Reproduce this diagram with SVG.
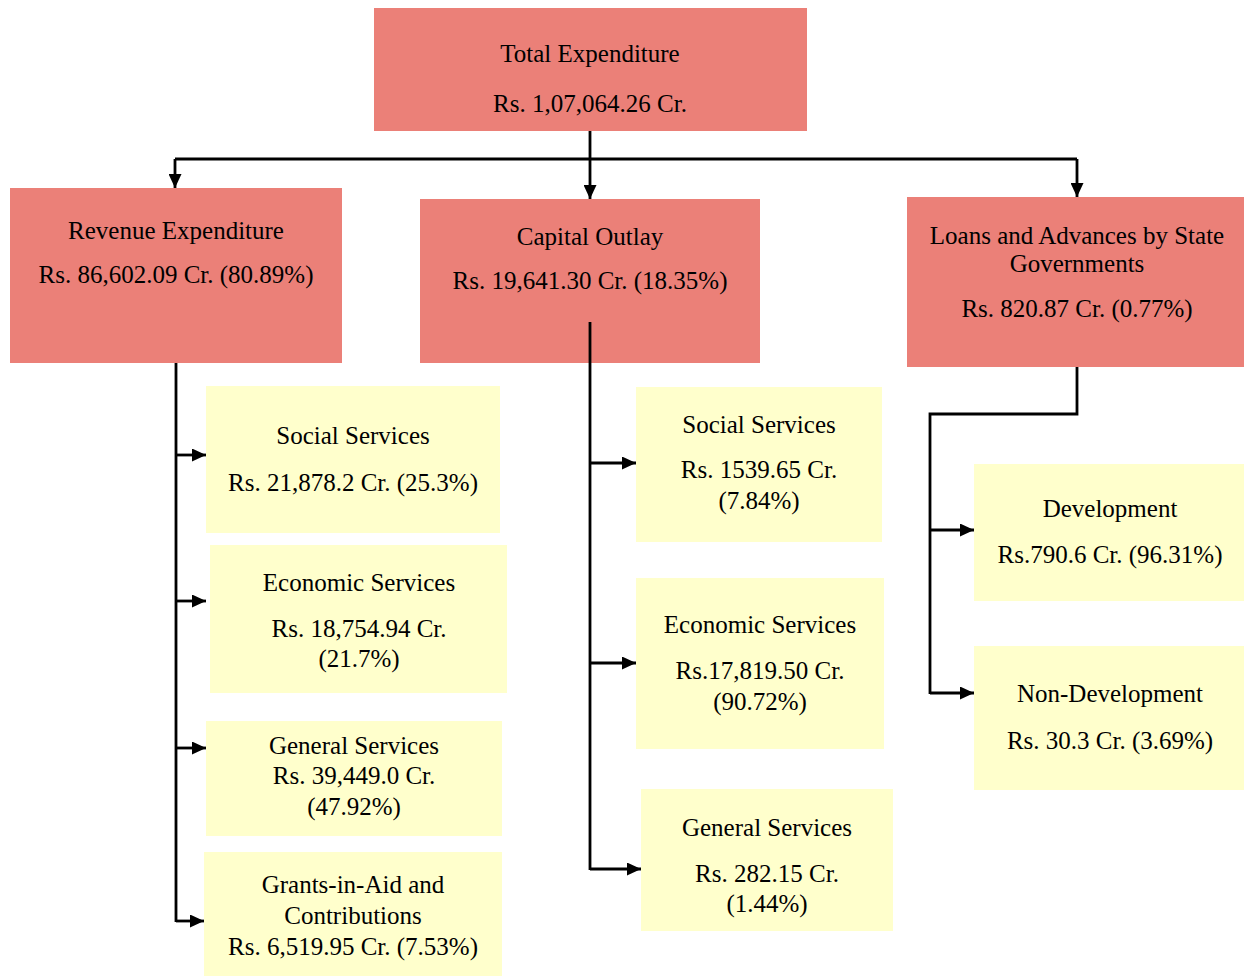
<svg xmlns="http://www.w3.org/2000/svg" width="1244" height="976" viewBox="0 0 1244 976">
<style>
.red{fill:#EB8078}
.yel{fill:#FFFFCC}
text{font-family:"Liberation Serif","Times New Roman",serif;font-size:25px;fill:#000;text-anchor:middle}
.ln{fill:none;stroke:#000;stroke-width:2.8}
</style>
<defs>
<marker id="ahl" markerWidth="14" markerHeight="13" refX="14" refY="6.5" orient="auto" markerUnits="userSpaceOnUse" viewBox="0 0 14 13">
<path d="M0,0 L14,6.5 L0,13 Z" fill="#000"/>
</marker>
</defs>
<rect width="1244" height="976" fill="#fff"/>
<g id="total"><rect class="red" x="374" y="8" width="433" height="123"/>
<text x="590" y="62">Total Expenditure</text><text x="590" y="112">Rs. 1,07,064.26 Cr.</text></g>
<g id="revenue"><rect class="red" x="10" y="188" width="332" height="175"/>
<text x="176" y="239">Revenue Expenditure</text><text x="176" y="283">Rs. 86,602.09 Cr. (80.89%)</text></g>
<g id="capital"><rect class="red" x="420" y="199" width="340" height="164"/>
<text x="590" y="245">Capital Outlay</text><text x="590" y="289">Rs. 19,641.30 Cr. (18.35%)</text></g>
<g id="loans"><rect class="red" x="907" y="197" width="337" height="170"/>
<text x="1077" y="244">Loans and Advances by State</text><text x="1077" y="272">Governments</text><text x="1077" y="317">Rs. 820.87 Cr. (0.77%)</text></g>
<g id="rev-social"><rect class="yel" x="206" y="386" width="294" height="147"/>
<text x="353" y="444">Social Services</text><text x="353" y="491">Rs. 21,878.2 Cr. (25.3%)</text></g>
<g id="rev-economic"><rect class="yel" x="210" y="545" width="297" height="148"/>
<text x="359" y="591">Economic Services</text><text x="359" y="637">Rs. 18,754.94 Cr.</text><text x="359" y="667">(21.7%)</text></g>
<g id="rev-general"><rect class="yel" x="206" y="721" width="296" height="115"/>
<text x="354" y="754">General Services</text><text x="354" y="784">Rs. 39,449.0 Cr.</text><text x="354" y="815">(47.92%)</text></g>
<g id="rev-grants"><rect class="yel" x="204" y="852" width="298" height="124"/>
<text x="353" y="893">Grants-in-Aid and</text><text x="353" y="924">Contributions</text><text x="353" y="955">Rs. 6,519.95 Cr. (7.53%)</text></g>
<g id="cap-social"><rect class="yel" x="636" y="387" width="246" height="155"/>
<text x="759" y="433">Social Services</text><text x="759" y="478">Rs. 1539.65 Cr.</text><text x="759" y="509">(7.84%)</text></g>
<g id="cap-economic"><rect class="yel" x="636" y="578" width="248" height="171"/>
<text x="760" y="633">Economic Services</text><text x="760" y="679">Rs.17,819.50 Cr.</text><text x="760" y="710">(90.72%)</text></g>
<g id="cap-general"><rect class="yel" x="641" y="789" width="252" height="142"/>
<text x="767" y="836">General Services</text><text x="767" y="882">Rs. 282.15 Cr.</text><text x="767" y="912">(1.44%)</text></g>
<g id="development"><rect class="yel" x="974" y="464" width="270" height="137"/>
<text x="1110" y="517">Development</text><text x="1110" y="563">Rs.790.6 Cr. (96.31%)</text></g>
<g id="non-development"><rect class="yel" x="974" y="646" width="270" height="144"/>
<text x="1110" y="702">Non-Development</text><text x="1110" y="749">Rs. 30.3 Cr. (3.69%)</text></g>
<g id="connectors">
<path class="ln" d="M590,131 V159 M175,159 H1077"/>
<path class="ln" d="M175,159 V188" marker-end="url(#ahl)"/>
<path class="ln" d="M590,159 V199" marker-end="url(#ahl)"/>
<path class="ln" d="M1077,159 V197" marker-end="url(#ahl)"/>
<path class="ln" d="M176,363 V922"/>
<path class="ln" d="M176,455 H206" marker-end="url(#ahl)"/>
<path class="ln" d="M176,601 H206" marker-end="url(#ahl)"/>
<path class="ln" d="M176,748 H206" marker-end="url(#ahl)"/>
<path class="ln" d="M176,921 H204" marker-end="url(#ahl)"/>
<path class="ln" d="M590,322 V870"/>
<path class="ln" d="M590,463 H636" marker-end="url(#ahl)"/>
<path class="ln" d="M590,663 H636" marker-end="url(#ahl)"/>
<path class="ln" d="M590,869 H641" marker-end="url(#ahl)"/>
<path class="ln" d="M1077,367 V414 H930 V694"/>
<path class="ln" d="M930,530 H974" marker-end="url(#ahl)"/>
<path class="ln" d="M930,693 H974" marker-end="url(#ahl)"/>
</g>
</svg>
